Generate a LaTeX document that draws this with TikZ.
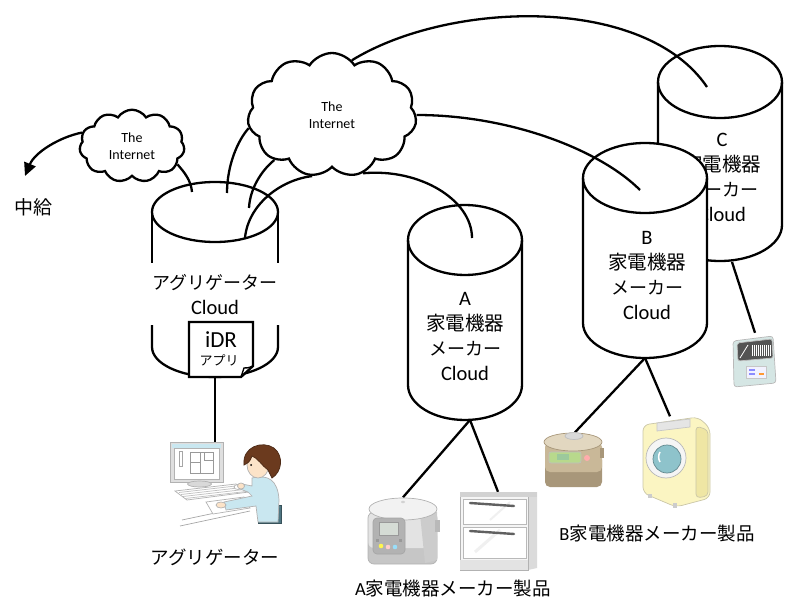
\documentclass[tikz,border=0pt]{standalone}
\usepackage{fontspec}
\setmainfont{Carlito}
\newfontfamily\jp{Noto Sans CJK JP}
\usetikzlibrary{shapes.symbols,arrows.meta}
\newcommand\J[1]{{\jp\fontsize{18}{25}\selectfont #1}}
\newcommand\K[1]{{\jp\fontsize{19.5}{25}\selectfont #1}}
\definecolor{shirt}{HTML}{C9E7F0}
\definecolor{hair}{HTML}{6B3A1E}
\definecolor{chair}{HTML}{4E7581}
\definecolor{skin}{HTML}{FCE3C8}
\definecolor{washer}{HTML}{FBF5C2}
\definecolor{washside}{HTML}{EFE6A4}
\definecolor{drum}{HTML}{8EC3CB}
\definecolor{tan}{HTML}{C9B898}
\definecolor{tandark}{HTML}{A8977A}
\definecolor{tanlight}{HTML}{E2D7C0}
\definecolor{panelgreen}{HTML}{B8D98C}
\definecolor{dwbody}{HTML}{D5E6E4}
\begin{document}
\begin{tikzpicture}[x=1pt,y=-1pt,
  wire/.style={line width=2.3pt},
  cylline/.style={line width=2.3pt},
  net/.style={cloud, cloud puffs=11, cloud puff arc=115, draw, line width=2.3pt,
    fill=white, align=center, inner sep=0pt,
    font=\fontsize{14}{17}\selectfont},
  lbl/.style={align=center, inner sep=0pt, font=\fontsize{20.5}{25}\selectfont},
  captxt/.style={inner sep=0pt, font=\jp\fontsize{18.5}{22}\selectfont},
  detail/.style={line width=0.7pt},
  device/.style={inner sep=0pt}]
\useasboundingbox (0,0) rectangle (788,599);

% ---------- C maker cloud (behind B) ----------
\fill[white] (658,82) -- (658,225) arc[start angle=180,end angle=360,x radius=62pt,y radius=36pt] -- (782,82) -- cycle;
\draw[cylline] (658,82) -- (658,225) arc[start angle=180,end angle=360,x radius=62pt,y radius=36pt] -- (782,82);
\draw[cylline] (720,82) ellipse[x radius=62pt,y radius=36pt];
\node[lbl] (ctext) at (722,177) {C\\\K{家電機器}\\\J{メーカー}\\Cloud};

% ---------- B maker cloud ----------
\fill[white] (583,178) -- (583,323) arc[start angle=180,end angle=360,x radius=62pt,y radius=35pt] -- (707,178) arc[start angle=0,end angle=180,x radius=62pt,y radius=35pt] -- cycle;
\draw[cylline] (583,178) -- (583,323) arc[start angle=180,end angle=360,x radius=62pt,y radius=35pt] -- (707,178);
\draw[cylline] (645,178) ellipse[x radius=62pt,y radius=35pt];
\node[lbl] (btext) at (647,275) {B\\\K{家電機器}\\\J{メーカー}\\Cloud};

% ---------- A maker cloud ----------
\draw[cylline] (408,240) -- (408,385) arc[start angle=180,end angle=360,x radius=57pt,y radius=35pt] -- (522,240);
\draw[cylline] (465,240) ellipse[x radius=57pt,y radius=35pt];
\node[lbl] (atext) at (465,336) {A\\\K{家電機器}\\\J{メーカー}\\Cloud};

% ---------- aggregator cloud ----------
\draw[cylline] (215,212) ellipse[x radius=63pt,y radius=30pt];
\draw[cylline] (152,212) -- (152,263);
\draw[cylline] (278,212) -- (278,263);
\draw[cylline] (152,325) -- (152,347) arc[start angle=180,end angle=360,x radius=63pt,y radius=30pt] -- (278,325);
\node[lbl] (aggtext) at (215,295) {\J{アグリゲーター}\\Cloud};

% iDR application sheet
\draw[line width=2.3pt, fill=white] (189,322) -- (253,322) -- (253,366) -- (241,377) -- (189,377) -- cycle;
\draw[line width=1.4pt] (241,377) .. controls (243,371) .. (244,368) .. controls (248,368) .. (253,366);
\node[inner sep=0pt, font=\fontsize{23}{25}\selectfont] (idr) at (221,340) {iDR};
\node[inner sep=0pt, font=\jp\fontsize{13}{15}\selectfont] (app) at (219,360) {アプリ};

% ---------- clouds of the Internet ----------
\node[net, minimum width=105pt, minimum height=68pt] (net1) at (132,146) {The\\Internet};
\node[net, minimum width=169pt, minimum height=124pt] (net2) at (332,115) {The\\Internet};

% ---------- anchor points ----------
\coordinate (aggin1) at (192,192);
\coordinate (aggin2) at (227,193);
\coordinate (aggin3) at (249,208);
\coordinate (aggin4) at (245,238);
\coordinate (ain) at (472,238);
\coordinate (bin) at (640,190);
\coordinate (cin) at (707,87);
\coordinate (aggbot) at (215,377);
\coordinate (abot) at (470,420);
\coordinate (bbot) at (645,358);
\coordinate (cbot) at (732,262);
\coordinate (relay) at (25,176);
\coordinate (pc) at (215,442);

% ---------- connectors ----------
\draw[wire, -{Triangle[length=13pt,width=12pt]}] (net1.165) .. controls (60,137) and (35,152) .. (relay);
\draw[wire] (net1.-22) .. controls (184,172) and (191,180) .. (aggin1);
\draw[wire] (net2.189) .. controls (238,140) and (227,165) .. (aggin2);
\draw[wire] (net2.218) .. controls (262,170) and (250,188) .. (aggin3);
\draw[wire] (net2.252) .. controls (280,180) and (248,205) .. (aggin4);
\draw[wire] (net2.298) .. controls (420,168) and (472,200) .. (ain);
\draw[wire] (net2.east) .. controls (510,115) and (600,150) .. (bin);
\draw[wire] (net2.70) .. controls (450,0) and (645,-5) .. (cin);

% ---------- relay label ----------
\node[inner sep=0pt, font=\jp\fontsize{19}{22}\selectfont] (relaytext) at (33,207) {中給};

% ---------- appliance placeholders ----------
\node[device, minimum width=71pt, minimum height=67pt] (riceA) at (403,531) {};
\node[device, minimum width=77pt, minimum height=78pt] (dryer) at (498,531) {};
\node[device, minimum width=60pt, minimum height=55pt] (riceB) at (575,460) {};
\node[device, minimum width=70pt, minimum height=93pt] (washer) at (670,463) {};
\node[device, minimum width=43pt, minimum height=54pt] (dishw) at (755,360) {};

\draw[wire] (aggbot) -- (pc);
\draw[wire] (abot) -- (riceA.north);
\draw[wire] (abot) -- (dryer.north);
\draw[wire] (bbot) -- (riceB.north);
\draw[wire] (bbot) -- (washer.north);
\draw[wire] (cbot) -- (dishw.north);

% ---------- rice cooker (A) ----------
\begin{scope}[detail]
\fill[gray!45, rounded corners=6pt] (368,530) rectangle (437,564);
\fill[gray!22, rounded corners=6pt] (368,512) rectangle (437,548);
\draw[gray!60, rounded corners=6pt] (368,512) rectangle (437,564);
\fill[gray!40] (420,514) -- (437,512) -- (437,560) -- (425,563) -- cycle;
\filldraw[fill=gray!10, draw=gray!60] (403,509) ellipse[x radius=34pt,y radius=11pt];
\fill[gray!35] (403,502) ellipse[x radius=2pt,y radius=1.2pt];
\filldraw[fill=gray!60, draw=gray!70, rounded corners=4pt] (373,518) rectangle (405,554);
\filldraw[fill=gray!15!green!10!gray!30, draw=gray!80] (379,522) rectangle (398,535);
\fill[yellow!70] (381,546) circle[radius=2.3pt];
\fill[pink!80] (388,547) circle[radius=2.3pt];
\fill[cyan!40] (395,547) circle[radius=2.3pt];
\fill[gray!80] (376,539) rectangle (379,542);
\fill[gray!80] (399,539) rectangle (402,542);
\fill[gray!55] (435,520) rectangle (440,532);
\end{scope}

% ---------- dish dryer (A) ----------
\begin{scope}[detail]
\fill[gray!28] (528,494) -- (537,492) -- (537,568) -- (528,570) -- cycle;
\filldraw[fill=gray!8, draw=gray!60] (460,494) rectangle (528,570);
\fill[gray!35] (460,492) rectangle (537,497);
\filldraw[fill=white, draw=gray!55] (463,499) rectangle (526,524);
\filldraw[fill=white, draw=gray!55] (463,527) rectangle (526,558);
\draw[gray!12, line width=3pt] (475,552) -- (500,530);
\draw[gray!12, line width=2pt] (490,520) -- (510,502);
\draw[gray!75!black, line width=2.4pt, line cap=round] (470,503) -- (514,506);
\draw[gray!75!black, line width=2.4pt, line cap=round] (470,531) -- (514,534);
\fill[gray!22] (460,560) rectangle (528,570);
\end{scope}

% ---------- rice cooker (B) ----------
\begin{scope}[detail]
\fill[tandark, rounded corners=5pt] (545,455) rectangle (602,487);
\fill[tan, rounded corners=5pt] (545,442) rectangle (602,472);
\filldraw[fill=tanlight, draw=tandark] (573,442) ellipse[x radius=29pt,y radius=9pt];
\filldraw[fill=gray!30, draw=gray!50] (574,436) ellipse[x radius=9pt,y radius=3.5pt];
\filldraw[fill=panelgreen, draw=gray!50, rounded corners=2pt] (549,452) rectangle (581,463);
\fill[green!30!gray!60] (557,454) rectangle (569,460);
\fill[pink!90!red] (587,458) circle[radius=3pt];
\fill[tandark] (600,448) rectangle (604,458);
\end{scope}

% ---------- washing machine (B) ----------
\begin{scope}[detail]
\filldraw[fill=washer, draw=washer!60!gray, rounded corners=6pt]
  (643,425) -- (698,417) -- (710,428) -- (710,498) -- (676,507) -- (643,493) -- cycle;
\filldraw[fill=washside, draw=washer!60!gray, rounded corners=4pt] (696,426) -- (708,430) -- (708,496) -- (696,498) -- cycle;
\filldraw[fill=gray!20, draw=gray!45] (657,423) -- (690,419) -- (690,427) -- (657,431) -- cycle;
\filldraw[fill=gray!8, draw=gray!55] (666,458) circle[radius=20pt];
\filldraw[fill=drum, draw=drum!70!black] (667,459) circle[radius=14pt];
\draw[white, line width=1.5pt] (660,452) arc[start angle=150,end angle=210,radius=10pt];
\fill[gray!40] (648,494) rectangle (652,498);
\fill[gray!40] (673,503) rectangle (677,508);
\end{scope}

% ---------- dishwasher (C) ----------
\begin{scope}[detail]
\filldraw[fill=dwbody, draw=gray!55, rounded corners=3pt] (733,341) -- (773,336) -- (776,383) -- (734,387) -- cycle;
\filldraw[fill=gray!65!black, draw=gray!50, rounded corners=2pt] (737,343) -- (772,339) -- (773,358) -- (738,361) -- cycle;
\foreach \i in {0,...,9} {\draw[white, line width=0.6pt] (752+\i*2,345) -- (752+\i*2,356);}
\draw[white, line width=0.8pt] (740,358) -- (748,345);
\filldraw[fill=blue!5, draw=gray!45] (746,366) rectangle (766,378);
\fill[blue!45] (749,369) rectangle (755,371);
\fill[blue!45] (749,373) rectangle (755,375);
\fill[orange!80] (759,373) rectangle (764,375);
\end{scope}

% ---------- aggregator at the computer ----------
\begin{scope}[detail]
% desk
\draw[gray!70] (180,526) -- (250,511);
\draw[gray!70] (182,520) -- (248,506);
% monitor
\filldraw[fill=gray!25, draw=gray!60] (170,442) rectangle (223,482);
\fill[shirt] (172,444) rectangle (221,448);
\filldraw[fill=white, draw=gray!60] (174,448) rectangle (219,479);
\draw[gray!70] (179,451) rectangle (182,466);
\draw[gray!80] (190,452) rectangle (213,473);
\draw[gray!80] (200,452) -- (200,473) (190,462) -- (200,462) (204,452) -- (204,460) -- (213,460);
\filldraw[fill=gray!30, draw=gray!60] (199.5,484) ellipse[x radius=12pt,y radius=3pt];
% keyboard
\filldraw[fill=white, draw=gray!60] (175,491) -- (236,484) -- (249,492) -- (187,500) -- cycle;
\foreach \k in {0,...,3} {\draw[gray!50] (179+\k*2,492.5+\k*2) -- (240+\k*2,485.5+\k*2);}
% mouse and paper
\filldraw[fill=white, draw=gray!60] (238,487) ellipse[x radius=4pt,y radius=2.5pt];
\filldraw[fill=white, draw=gray!60] (206,502) -- (244,497) -- (250,508) -- (213,514) -- cycle;
% chair
\filldraw[fill=chair, draw=chair!70!black] (258,505) rectangle (281,523);
% body and arms
\filldraw[fill=shirt, draw=gray!60] (252,478) .. controls (268,474) and (278,480) .. (279,500)
  -- (278,522) -- (258,522) -- (256,506) -- (226,510) -- (224,502) -- (252,496) -- (248,492)
  -- (240,489) -- (242,484) -- (252,486) -- cycle;
\filldraw[fill=skin, draw=gray!60] (221,505) ellipse[x radius=5pt,y radius=3pt];
\filldraw[fill=skin, draw=gray!60] (241,486) ellipse[x radius=3.5pt,y radius=3pt];
% head
\filldraw[fill=skin, draw=gray!60] (258,465) ellipse[x radius=11pt,y radius=13pt];
\filldraw[fill=hair, draw=hair!70!black] (244,465) .. controls (242,447) and (262,440) .. (274,448)
  .. controls (284,456) and (282,472) .. (272,478) -- (268,470) .. controls (262,466) and (258,458) .. (252,456)
  .. controls (250,462) and (248,463) .. (244,465) -- cycle;
\fill[black] (251,465) circle[radius=1pt];
\end{scope}

% ---------- captions ----------
\node[captxt] (aggcap) at (215,557) {アグリゲーター};
\node[captxt] (acap) at (453,588) {\fontsize{18.5}{22}\selectfont\rmfamily A\jp 家電機器メーカー製品};
\node[captxt] (bcap) at (657,533) {\fontsize{18.5}{22}\selectfont\rmfamily B\jp 家電機器メーカー製品};
\end{tikzpicture}
\end{document}
